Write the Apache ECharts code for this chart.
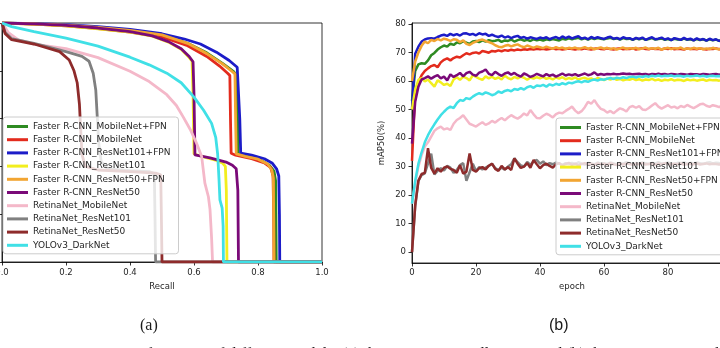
<!DOCTYPE html>
<html>
<head>
<meta charset="utf-8">
<script src="https://cdn.jsdelivr.net/npm/echarts@6/dist/echarts.min.js"></script>
<style>
  html, body { margin: 0; padding: 0; background: #fff; }
  #chart { width: 720px; height: 348px; }
</style>
</head>
<body>
<div id="chart"></div>
<script>
// Model names, shared by both panels
const modelNames = [
  'Faster R-CNN_MobileNet+FPN',
  'Faster R-CNN_MobileNet',
  'Faster R-CNN_ResNet101+FPN',
  'Faster R-CNN_ResNet101',
  'Faster R-CNN_ResNet50+FPN',
  'Faster R-CNN_ResNet50',
  'RetinaNet_MobileNet',
  'RetinaNet_ResNet101',
  'RetinaNet_ResNet50',
  'YOLOv3_DarkNet'
];
const modelColors = ['#2e8b22', '#e32b1d', '#1c1cc8', '#f2ee1e', '#f2a532',
                     '#7a0a78', '#f4b8c9', '#808080', '#8e2b2b', '#40e0e6'];

// (a) precision-recall curves: [recall, precision]
const prMobileNetFPN = [[0,1],[0.1,0.996],[0.2,0.99],[0.3,0.98],[0.4,0.967],[0.5,0.948],[0.58,0.915],[0.64,0.875],[0.69,0.83],[0.725,0.795],[0.733,0.78],[0.736,0.6],[0.738,0.452],[0.77,0.44],[0.81,0.425],[0.835,0.405],[0.85,0.38],[0.855,0.34],[0.856,0.2],[0.857,0],[1,0]];
const prMobileNet = [[0,1],[0.1,0.995],[0.2,0.988],[0.3,0.977],[0.4,0.962],[0.5,0.942],[0.58,0.905],[0.64,0.86],[0.68,0.82],[0.705,0.79],[0.712,0.78],[0.714,0.6],[0.716,0.455],[0.73,0.447],[0.78,0.432],[0.82,0.415],[0.84,0.395],[0.847,0.36],[0.849,0.2],[0.85,0],[1,0]];
const prResNet101FPN = [[0,1],[0.1,0.997],[0.2,0.993],[0.3,0.985],[0.4,0.973],[0.5,0.955],[0.57,0.933],[0.62,0.912],[0.67,0.878],[0.71,0.843],[0.735,0.815],[0.741,0.81],[0.743,0.6],[0.746,0.456],[0.78,0.447],[0.82,0.432],[0.845,0.413],[0.858,0.39],[0.865,0.36],[0.867,0.2],[0.868,0],[1,0]];
const prResNet101 = [[0,1],[0.1,0.995],[0.2,0.988],[0.3,0.976],[0.4,0.962],[0.47,0.945],[0.52,0.92],[0.56,0.89],[0.585,0.855],[0.594,0.84],[0.597,0.7],[0.6,0.452],[0.63,0.44],[0.67,0.425],[0.69,0.413],[0.698,0.4],[0.701,0.3],[0.703,0],[1,0]];
const prResNet50FPN = [[0,1],[0.1,0.996],[0.2,0.991],[0.3,0.982],[0.4,0.969],[0.5,0.95],[0.58,0.915],[0.64,0.872],[0.69,0.828],[0.72,0.796],[0.728,0.787],[0.73,0.6],[0.732,0.452],[0.76,0.442],[0.8,0.43],[0.83,0.41],[0.843,0.385],[0.848,0.35],[0.849,0.2],[0.85,0],[1,0]];
const prResNet50 = [[0,1],[0.1,0.996],[0.2,0.99],[0.3,0.979],[0.4,0.964],[0.47,0.946],[0.52,0.922],[0.56,0.892],[0.585,0.86],[0.597,0.838],[0.6,0.7],[0.603,0.448],[0.65,0.436],[0.7,0.418],[0.72,0.405],[0.732,0.39],[0.737,0.3],[0.739,0],[1,0]];
const prRetinaMobileNet = [[0,1],[0.02,0.96],[0.05,0.93],[0.1,0.912],[0.2,0.893],[0.3,0.855],[0.4,0.798],[0.46,0.755],[0.515,0.7],[0.545,0.655],[0.567,0.605],[0.59,0.55],[0.608,0.497],[0.624,0.441],[0.634,0.33],[0.645,0.273],[0.65,0.22],[0.655,0.1],[0.658,0],[1,0]];
const prRetinaResNet101 = [[0,1],[0.01,0.96],[0.03,0.935],[0.1,0.915],[0.2,0.88],[0.25,0.86],[0.272,0.84],[0.285,0.79],[0.293,0.72],[0.298,0.6],[0.302,0.5],[0.31,0.42],[0.33,0.39],[0.4,0.382],[0.46,0.378],[0.476,0.37],[0.478,0.2],[0.48,0],[1,0]];
const prRetinaResNet50 = [[0,1],[0.01,0.955],[0.03,0.93],[0.1,0.912],[0.18,0.88],[0.21,0.845],[0.225,0.8],[0.235,0.75],[0.242,0.66],[0.246,0.55],[0.25,0.45],[0.26,0.4],[0.3,0.385],[0.4,0.378],[0.48,0.372],[0.496,0.365],[0.498,0.2],[0.5,0],[1,0]];
const prYolo = [[0,1],[0.03,0.985],[0.1,0.964],[0.2,0.937],[0.3,0.903],[0.4,0.857],[0.46,0.825],[0.515,0.79],[0.56,0.75],[0.6,0.69],[0.63,0.635],[0.655,0.58],[0.668,0.52],[0.674,0.45],[0.678,0.35],[0.681,0.26],[0.688,0.225],[0.691,0.15],[0.692,0],[1,0]];
const prCurves = [prMobileNetFPN, prMobileNet, prResNet101FPN, prResNet101, prResNet50FPN,
                  prResNet50, prRetinaMobileNet, prRetinaResNet101, prRetinaResNet50, prYolo];

// (b) mAP50 (%) per epoch, starting at epoch 0
const mapMobileNetFPN = [
53.0,63.5,65.8,66.2,66.0,67.2,69.0,69.8,71.0,71.8,
72.4,72.0,73.1,72.6,73.5,73.2,73.9,73.4,73.0,73.8,
74.0,73.6,74.2,73.8,74.3,73.9,74.1,74.4,73.7,74.2,
74.0,74.5,73.8,74.3,74.6,74.1,74.4,74.0,74.6,74.2,
74.5,74.1,74.6,74.3,74.7,74.4,74.2,74.8,74.5,74.9,
74.6,74.9,75.1,74.6,74.9,74.5,75.0,74.7,75.0,74.8,
74.6,74.9,75.1,74.7,74.9,74.5,75.0,74.7,74.8,74.4,
74.9,74.6,74.9,74.4,74.7,75.0,74.5,74.7,74.9,74.4,
74.7,74.3,74.8,74.5,74.4,74.8,74.4,74.6,74.2,74.7,
74.3,74.6,74.1,74.6,74.2,74.5,74.0,74.4,74.2,74.3];
const mapMobileNet = [
32.0,56.0,59.5,62.0,63.5,64.4,65.2,65.6,64.8,66.5,
67.4,67.9,67.2,68.0,68.5,68.2,69.0,69.7,69.3,69.8,
70.0,69.6,70.5,70.2,69.9,70.5,70.3,70.7,70.4,70.8,
70.6,70.9,70.7,71.0,70.8,71.1,70.9,71.2,71.0,71.3,
71.1,71.3,71.0,71.2,71.4,71.1,71.3,71.0,71.2,71.4,
71.2,71.0,71.3,71.1,71.4,71.2,71.0,71.3,71.5,71.2,
71.1,71.4,71.2,71.0,71.3,71.5,71.1,71.3,71.2,71.4,
71.0,71.3,71.5,71.2,71.1,71.4,71.2,71.3,71.0,71.4,
71.2,71.5,71.1,71.3,71.2,71.0,71.4,71.2,71.3,71.1,
71.4,71.2,71.0,71.3,71.2,71.4,71.1,71.3,71.2,71.3];
const mapResNet101FPN = [
50.0,69.5,72.0,73.8,74.5,74.9,75.0,74.8,75.4,75.9,
76.2,75.8,76.5,76.0,76.4,75.9,76.6,76.7,76.2,76.5,
76.0,76.7,76.3,76.5,75.8,76.2,75.7,75.4,75.9,75.2,
75.6,75.0,75.5,75.8,75.1,75.4,74.8,75.3,75.0,74.7,
75.2,74.9,75.3,74.6,75.1,75.4,74.8,75.6,75.0,75.5,
74.9,75.3,75.7,74.8,75.2,74.6,75.4,74.9,75.3,75.0,
74.7,75.2,75.5,74.8,75.1,74.6,75.3,74.9,75.0,74.5,
75.1,74.7,75.2,74.4,74.9,75.3,74.6,74.8,75.2,74.5,
74.9,74.3,75.0,74.7,74.4,75.1,74.5,74.8,74.2,74.9,
74.4,74.7,74.1,74.8,74.3,74.6,74.0,74.5,74.2,74.4];
const mapResNet101 = [
50.0,57.0,60.4,61.0,59.8,60.5,59.2,58.0,60.2,59.5,
58.6,59.0,58.2,60.5,61.3,60.4,61.5,61.0,60.2,62.0,
61.4,60.8,60.4,61.6,60.9,61.5,60.7,61.2,60.5,61.8,
61.0,60.6,61.4,60.9,61.5,61.1,60.4,61.2,60.8,61.3,
60.9,61.4,60.7,61.1,60.5,61.2,60.8,61.3,60.6,61.0,
60.7,61.2,60.5,60.9,61.1,60.6,60.9,60.4,61.0,60.7,
60.3,60.8,60.5,60.9,60.4,60.7,60.2,60.6,60.4,60.8,
60.3,60.6,60.1,60.5,60.3,60.7,60.2,60.5,60.0,60.4,
60.2,60.6,60.1,60.4,60.3,60.0,60.5,60.2,60.4,60.1,
60.3,60.5,60.0,60.4,60.2,60.3,60.1,60.4,60.2,60.3];
const mapResNet50FPN = [
60.0,66.8,70.0,72.3,73.8,73.2,74.4,74.0,74.7,74.2,
74.8,74.5,74.0,74.6,74.4,73.6,74.2,73.0,72.6,73.3,
73.8,74.3,74.5,74.0,73.6,73.2,72.5,72.0,71.8,72.3,
72.6,72.1,72.5,72.8,72.2,71.8,72.4,72.0,71.6,72.1,
71.8,71.5,72.0,71.6,71.3,71.8,71.4,71.7,71.2,71.6,
71.4,71.7,71.2,71.5,71.8,71.3,71.6,71.1,71.5,71.7,
71.3,71.6,71.2,71.5,71.0,71.4,71.7,71.2,71.5,71.3,
71.6,71.1,71.4,71.7,71.2,71.5,71.3,71.6,71.0,71.4,
71.6,71.2,71.5,71.3,71.7,71.1,71.4,71.2,71.6,71.3,
71.5,71.1,71.4,71.2,71.6,71.3,71.1,71.4,71.2,71.3];
const mapResNet50 = [
38.0,52.7,58.0,60.5,61.0,61.6,60.8,61.5,62.0,60.9,
61.5,60.2,62.3,61.4,62.0,62.8,61.6,62.7,63.2,62.2,
61.8,62.9,63.3,64.0,62.5,62.0,63.2,62.4,61.8,62.6,
63.0,62.2,62.8,62.0,61.5,62.6,62.1,61.4,61.8,62.5,
62.0,61.6,62.4,61.8,62.2,61.5,62.0,62.6,61.9,62.3,
62.0,62.4,61.8,62.2,62.6,62.0,62.3,63.0,62.1,62.4,
62.2,62.4,62.3,62.5,62.3,62.4,62.6,62.4,62.5,62.3,
62.4,62.5,62.3,62.4,62.2,62.4,62.3,62.5,62.3,62.4,
62.2,62.4,62.3,62.2,62.4,62.3,62.2,62.4,62.3,62.3,
62.2,62.4,62.3,62.2,62.3,62.4,62.2,62.3,62.3,62.2];
const mapRetinaMobileNet = [
17.0,24.0,30.0,34.0,37.0,38.5,40.5,42.5,43.4,44.0,
43.0,43.4,42.8,45.0,46.3,47.0,48.0,46.5,45.0,44.5,
44.0,44.8,45.5,44.6,45.1,46.0,45.4,46.3,47.0,46.2,
47.2,48.0,47.3,46.8,47.5,48.6,47.9,49.8,48.3,47.0,
46.9,47.8,48.5,48.0,47.2,48.4,48.9,48.7,49.5,50.2,
51.0,49.6,48.7,49.4,50.8,52.7,52.0,53.3,51.5,50.2,
49.8,48.9,49.5,48.7,49.6,50.4,50.0,49.3,50.8,51.2,
50.6,51.2,50.0,49.8,50.5,51.4,52.2,51.0,50.3,50.9,
51.5,50.7,51.0,50.4,51.2,50.8,51.6,51.0,50.5,51.1,
51.8,52.0,51.3,50.9,51.5,51.2,50.8,51.4,51.1,51.6];
const mapRetinaResNet101 = [
0.0,16.0,25.0,27.0,27.6,31.0,34.5,27.2,28.5,29.4,
28.6,30.2,29.6,27.8,28.8,30.5,31.2,25.0,28.0,31.0,
28.4,29.8,29.0,29.6,30.2,31.0,29.5,28.8,29.6,28.9,
30.0,30.8,32.9,31.5,30.4,30.0,31.6,30.6,31.8,32.3,
31.0,31.8,30.5,31.2,30.8,31.4,31.0,30.6,31.2,30.9,
31.3,30.8,31.5,31.0,30.7,31.3,31.1,30.8,31.4,31.0,
31.2,30.9,31.4,31.1,30.8,31.3,31.0,31.5,31.1,30.9,
31.3,31.0,31.4,31.2,30.9,31.3,31.1,31.5,31.0,31.2,
31.4,31.1,30.9,31.3,31.2,31.5,31.0,31.3,31.1,31.4,
31.2,31.0,31.3,31.5,31.1,31.3,31.2,31.0,31.4,31.2];
const mapRetinaResNet50 = [
0.0,16.5,25.0,27.4,27.8,36.4,29.5,27.5,29.4,28.2,
29.6,30.0,29.2,28.8,27.8,30.5,27.5,28.2,34.6,28.8,
28.2,29.4,29.8,29.0,30.3,31.0,29.2,28.5,30.2,29.0,
29.8,28.8,32.9,31.0,29.5,30.0,31.2,29.6,32.3,30.8,
29.4,30.5,31.0,30.2,29.6,30.8,31.2,30.4,30.9,31.3,
30.6,31.0,30.4,30.9,31.2,30.7,31.0,30.5,31.1,30.8,
31.0,30.6,31.2,30.8,30.5,31.0,30.7,31.1,30.9,30.6,
31.0,30.8,31.2,30.7,30.9,31.1,30.6,31.0,30.8,31.2,
30.9,30.7,31.0,30.8,31.1,30.6,30.9,31.0,30.8,31.1,
30.7,30.9,31.1,30.8,31.0,30.9,30.7,31.0,30.9,31.0];
const mapYolo = [
17.0,25.0,31.0,35.0,38.5,41.0,43.0,44.8,46.5,48.0,
49.2,50.3,51.0,50.5,52.2,53.3,53.0,54.0,53.6,54.5,
55.2,55.7,55.3,56.0,55.6,55.0,55.4,56.3,55.8,56.5,
56.8,56.4,57.2,56.9,57.5,57.0,57.8,58.2,57.6,58.4,
58.2,58.6,58.0,58.8,58.4,59.0,58.6,59.2,58.8,59.4,
59.2,59.6,59.9,59.5,60.0,59.7,60.2,60.5,60.1,60.6,
60.4,60.8,61.0,60.7,61.1,60.9,61.3,61.0,61.4,61.5,
61.2,61.6,61.4,61.7,61.5,61.8,61.6,61.9,61.6,61.8,
61.7,61.9,61.6,61.8,61.7,61.5,61.8,61.6,61.7,61.9,
61.6,61.8,61.5,61.7,61.8,61.6,61.7,61.5,61.8,61.6];
const mapCurves = [mapMobileNetFPN, mapMobileNet, mapResNet101FPN, mapResNet101, mapResNet50FPN,
                   mapResNet50, mapRetinaMobileNet, mapRetinaResNet101, mapRetinaResNet50, mapYolo];

// Axis ticks
const recallTicks = [0, 0.2, 0.4, 0.6, 0.8, 1.0];
const mapTicks = [0, 10, 20, 30, 40, 50, 60, 70, 80];

const font = 'DejaVu Sans';
const textColor = '#262626';

const chart = echarts.init(document.getElementById('chart'), null, { renderer: 'canvas' });

function legendFor(left, top, padding) {
  return {
    data: modelNames,
    orient: 'vertical',
    left: left,
    top: top,
    padding: padding,
    itemWidth: 21,
    itemHeight: 3,
    itemGap: 4.2,
    icon: 'rect',
    backgroundColor: 'rgba(255,255,255,0.8)',
    borderColor: '#cccccc',
    borderWidth: 1,
    borderRadius: 3,
    selectedMode: false,
    textStyle: { fontFamily: font, fontSize: 9, color: textColor, padding: [0, 0, 0, 0] },
    z: 10
  };
}

function axisCommon() {
  return {
    axisLine: { show: true, onZero: false, lineStyle: { color: '#000', width: 0.8 } },
    axisTick: { show: true, length: 3.5, lineStyle: { color: '#000', width: 0.8 } },
    axisLabel: { fontFamily: font, fontSize: 8, color: textColor, margin: 5 },
    splitLine: { show: false }
  };
}

const series = [];
modelNames.forEach((name, i) => {
  series.push({
    name: name, type: 'line', xAxisIndex: 0, yAxisIndex: 0,
    data: prCurves[i], showSymbol: false, symbol: 'none',
    lineStyle: { color: modelColors[i], width: 2.8 },
    itemStyle: { color: modelColors[i] },
    clip: true, silent: true
  });
});
modelNames.forEach((name, i) => {
  series.push({
    name: name, type: 'line', xAxisIndex: 1, yAxisIndex: 1,
    data: mapCurves[i].map((v, ep) => [ep, v]), showSymbol: false, symbol: 'none',
    lineStyle: { color: modelColors[i], width: 2.5 },
    itemStyle: { color: modelColors[i] },
    clip: true, silent: true
  });
});

const option = {
  animation: false,
  backgroundColor: '#ffffff',
  grid: [
    { left: 2, top: 23, width: 320, height: 239, show: true, borderColor: '#000', borderWidth: 0.8,
      backgroundColor: 'transparent', outerBoundsMode: 'none', containLabel: false },
    { left: 412, top: 23, width: 320, height: 240, show: true, borderColor: '#000', borderWidth: 0.8,
      backgroundColor: 'transparent', outerBoundsMode: 'none', containLabel: false }
  ],
  xAxis: [
    Object.assign(axisCommon(), {
      gridIndex: 0, type: 'value', min: 0, max: 1, interval: 0.2,
      name: 'Recall', nameLocation: 'middle', nameGap: 19,
      nameTextStyle: { fontFamily: font, fontSize: 8.5, color: textColor },
      axisLabel: { fontFamily: font, fontSize: 8.5, color: textColor, margin: 6,
        customValues: recallTicks, formatter: v => v.toFixed(1) },
      axisTick: { show: true, length: 3.5, customValues: recallTicks, lineStyle: { color: '#000', width: 0.8 } }
    }),
    Object.assign(axisCommon(), {
      gridIndex: 1, type: 'value', min: 0, max: 100, interval: 20,
      name: 'epoch', nameLocation: 'middle', nameGap: 19,
      nameTextStyle: { fontFamily: font, fontSize: 8.5, color: textColor },
      axisLabel: { fontFamily: font, fontSize: 8.5, color: textColor, margin: 5 }
    })
  ],
  yAxis: [
    Object.assign(axisCommon(), {
      gridIndex: 0, type: 'value', min: 0, max: 1, interval: 0.2,
      axisLabel: { fontFamily: font, fontSize: 8.5, color: textColor, margin: 6,
        formatter: v => v.toFixed(1) }
    }),
    Object.assign(axisCommon(), {
      gridIndex: 1, type: 'value', min: -3.8, max: 80.3,
      name: 'mAP50(%)', nameLocation: 'middle', nameGap: 26, nameRotate: 90,
      nameTextStyle: { fontFamily: font, fontSize: 8.5, color: textColor },
      axisLabel: { fontFamily: font, fontSize: 8.5, color: textColor, margin: 6, customValues: mapTicks },
      axisTick: { show: true, length: 3.5, customValues: mapTicks, lineStyle: { color: '#000', width: 0.8 } }
    })
  ],
  legend: [
    legendFor(3, 117, [5, 8, 4, 4]),
    legendFor(556, 118, [5, 8, 4, 4])
  ],
  series: series,
  graphic: [
    { type: 'text', left: 140, top: 318, z: 20,
      style: { text: '(a)', font: '16px "Liberation Serif"', fill: '#1a1a1a' } },
    { type: 'text', left: 549, top: 318, z: 20,
      style: { text: '(b)', font: '16px "Liberation Sans"', fill: '#1a1a1a' } },
    { type: 'text', left: 60, top: 346.5, z: 20,
      style: { text: 'Detection performance of different models: (a) the precision\u2013recall curves and (b) the mAP50 curves during training',
        font: '16px "Liberation Serif"', fill: '#1a1a1a' } }
  ]
};

chart.setOption(option);
</script>
</body>
</html>
